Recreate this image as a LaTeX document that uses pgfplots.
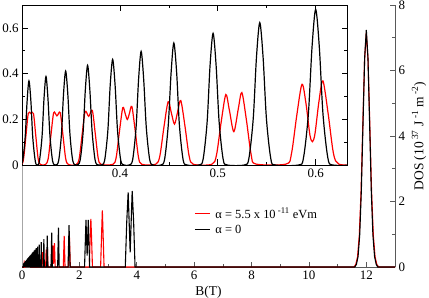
\documentclass[border=0pt]{standalone}
\usepackage{pgfplots}
\pgfplotsset{compat=1.18}
\usepackage{fontspec}
\setmainfont{Liberation Serif}
\begin{document}
\begin{tikzpicture}
\path[use as bounding box] (-22bp,-31bp) rectangle (407bp,267bp);
\pgfplotsset{
  /pgf/number format/assume math mode=true,
  major tick length=5.5bp, minor tick length=3bp,
}
\begin{axis}[
  at={(0,0)}, anchor=south west,
  scale only axis, width=373bp, height=262bp,
  xmin=0, xmax=13, ymin=0, ymax=8,
  axis x line=bottom, axis y line=right,
  axis line style={-, gray!70!black, line width=0.8bp},
  every tick/.style={gray!70!black, line width=0.6bp},
  tick align=inside,
  tick label style={font=\fontsize{13}{15}\selectfont},
  label style={font=\fontsize{13.5}{15}\selectfont},
  xtick={0,2,...,12}, ytick={0,2,...,8},
  minor x tick num=1, minor y tick num=1,
  xlabel={B(T)},
  ylabel={DOS (10\textsuperscript{ 37} J\textsuperscript{ -1} m\textsuperscript{ -2})},
  legend style={at={(axis cs:6.0,1.87)}, anchor=north west, draw=none, fill=none,
    font=\fontsize{12.5}{14}\selectfont, row sep=1.5bp, inner sep=0pt,
    nodes={inner xsep=5bp}},
  legend cell align=left,
  legend image code/.code={\draw[#1, line width=1.1bp] (0bp,0bp) -- (15bp,0bp);},
]
\draw[gray!70, line width=0.8bp] (rel axis cs:0,0) -- (rel axis cs:0,1);
\addplot[red, line width=1.1bp] coordinates {
(0,0) (0.065,0) (0.07,0.051) (0.077,0) (0.085,0.062) (0.093,0) (0.1011,0.074) (0.109,0)
(0.1178,0.086) (0.126,0) (0.1352,0.099) (0.143,0) (0.1514,0.111) (0.158,0) (0.1642,0.120)
(0.172,0) (0.1793,0.131) (0.184,0) (0.1881,0.137) (0.193,0) (0.1978,0.144) (0.203,0)
(0.2085,0.152) (0.214,0) (0.2205,0.161) (0.227,0) (0.2339,0.171) (0.241,0) (0.2490,0.182)
(0.257,0) (0.2662,0.194) (0.276,0) (0.2858,0.209) (0.2992,0) (0.3064,0.225) (0.3117,0.225)
(0.3189,0) (0.3240,0) (0.3324,0.229) (0.3357,0.215) (0.3390,0.229) (0.3474,0) (0.3555,0)
(0.3645,0.234) (0.3682,0.213) (0.3718,0.239) (0.3808,0) (0.3928,0) (0.4030,0.251)
(0.4076,0.199) (0.4122,0.256) (0.4224,0) (0.4364,0) (0.4493,0.277) (0.4558,0.179)
(0.4622,0.282) (0.4751,0) (0.4938,0) (0.5082,0.308) (0.5164,0.146) (0.5246,0.317) (0.5390,0)
(0.5698,0) (0.5860,0.353) (0.5967,0.102) (0.6074,0.368) (0.6236,0) (0.677,0) (0.691,0.43)
(0.706,0.2) (0.721,0.45) (0.737,0) (0.824,0) (0.842,0.53) (0.865,0.1) (0.888,0.55) (0.907,0)
(1.045,0) (1.07,0.66) (1.10,0.1) (1.13,0.73) (1.157,0) (1.44,0) (1.47,0.95) (1.50,0)
(1.615,0) (1.65,1.0) (1.685,0) (2.345,0) (2.375,0.88) (2.40,1.47) (2.425,0.88) (2.455,0)
(2.74,0) (2.775,1.04) (2.80,1.73) (2.825,1.04) (2.86,0) (11.57,0) (11.634,0.08) (11.695,0.31)
(11.756,0.97) (11.817,2.32) (11.878,4.34) (11.939,6.31) (12.0,7.15) (12.061,6.31)
(12.122,4.34) (12.183,2.32) (12.244,0.97) (12.305,0.31) (12.366,0.08) (12.43,0) (13,0)
};
\addlegendentry{α = 5.5\ x 10\textsuperscript{ -11}\ eVm}
\addplot[black, line width=1.1bp] coordinates {
(0,0) (0.045,0) (0.05,0.094) (0.055,0) (0.06,0.104) (0.065,0) (0.07,0.115) (0.075,0)
(0.08,0.126) (0.085,0) (0.09,0.136) (0.096,0) (0.1019,0.149) (0.108,0) (0.1143,0.162)
(0.121,0) (0.1272,0.176) (0.1335,0) (0.1398,0.190) (0.1454,0) (0.1510,0.202) (0.1553,0)
(0.1595,0.211) (0.1643,0) (0.1691,0.221) (0.1745,0) (0.1798,0.232) (0.1860,0) (0.1921,0.246)
(0.1955,0) (0.1988,0.253) (0.2025,0) (0.2061,0.261) (0.2100,0) (0.2139,0.269) (0.2181,0)
(0.2223,0.278) (0.2268,0) (0.2314,0.288) (0.2363,0) (0.2413,0.298) (0.2466,0) (0.2520,0.310)
(0.2579,0) (0.2638,0.322) (0.2702,0) (0.2767,0.336) (0.2838,0) (0.2910,0.351) (0.2985,0)
(0.3006,0) (0.3071,0.368) (0.3136,0) (0.3177,0) (0.3245,0.387) (0.3313,0) (0.3373,0)
(0.3446,0.411) (0.3519,0) (0.3592,0) (0.3670,0.436) (0.3748,0) (0.3843,0) (0.3926,0.462)
(0.4009,0) (0.4129,0) (0.4217,0.497) (0.4305,0) (0.4456,0) (0.4551,0.534) (0.4646,0)
(0.4849,0) (0.4952,0.576) (0.5055,0) (0.5316,0) (0.5429,0.623) (0.5542,0) (0.5875,0)
(0.6000,0.681) (0.6125,0) (0.657,0) (0.671,0.76) (0.685,0) (0.746,0) (0.762,0.85) (0.778,0)
(0.861,0) (0.880,0.96) (0.899,0) (1.013,0) (1.035,1.05) (1.057,0) (1.243,0) (1.27,1.20)
(1.297,0) (1.605,0) (1.64,1.28) (1.675,0) (2.18,0) (2.23,1.44) (2.27,0.35) (2.31,1.44)
(2.36,0) (3.60,0) (3.65,1.37) (3.70,2.28) (3.77,0.45) (3.84,2.32) (3.89,1.39) (3.94,0)
(11.60,0) (11.655,0.08) (11.7125,0.32) (11.77,0.98) (11.8275,2.35) (11.885,4.39)
(11.9425,6.39) (12.0,7.24) (12.0575,6.39) (12.115,4.39) (12.1725,2.35) (12.23,0.98)
(12.2875,0.32) (12.345,0.08) (12.40,0) (13,0)
};
\addlegendentry{α = 0}
\end{axis}
\begin{axis}[
  at={(0,102bp)}, anchor=south west,
  scale only axis, width=325bp, height=160bp,
  xmin=0.3, xmax=0.632, ymin=0, ymax=0.7,
  axis line style={black, line width=0.8bp},
  every tick/.style={black, line width=0.6bp},
  tick align=inside,
  tick label style={font=\fontsize{13}{15}\selectfont},
  xtick={0.4,0.5,0.6}, ytick={0,0.2,0.4,0.6},
  minor x tick num=1, minor y tick num=1,
  axis background/.style={fill=white},
]
\addplot[red, line width=1.2bp, smooth] coordinates {
(0.29,0) (0.2992,0.002) (0.3016,0.028) (0.3040,0.127) (0.3064,0.225) (0.30905,0.226)
(0.3117,0.225) (0.3141,0.127) (0.3165,0.028) (0.3189,0.002)
(0.3240,0.002) (0.3268,0.029) (0.3296,0.132) (0.3324,0.229) (0.3357,0.215) (0.3390,0.229)
(0.3418,0.132) (0.3446,0.029) (0.3474,0.002)
(0.3555,0.002) (0.3585,0.030) (0.3615,0.136) (0.3645,0.234) (0.36815,0.213) (0.3718,0.239)
(0.3748,0.139) (0.3778,0.031) (0.3808,0.003)
(0.3928,0.003) (0.3962,0.033) (0.3996,0.149) (0.4030,0.251) (0.4056,0.222) (0.4076,0.199)
(0.4097,0.225) (0.4122,0.256) (0.4156,0.152) (0.4190,0.034) (0.4224,0.003)
(0.4364,0.003) (0.4407,0.037) (0.4450,0.166) (0.4493,0.277) (0.4525,0.229) (0.4558,0.179)
(0.4590,0.233) (0.4622,0.282) (0.4665,0.169) (0.4708,0.038) (0.4751,0.003)
(0.4938,0.003) (0.4986,0.042) (0.5034,0.186) (0.5082,0.308) (0.5118,0.241) (0.5164,0.146)
(0.5210,0.247) (0.5246,0.317) (0.5294,0.192) (0.5342,0.043) (0.5390,0.004)
(0.5698,0.004) (0.5752,0.048) (0.5806,0.214) (0.5860,0.353) (0.5901,0.269) (0.5941,0.132)
(0.5967,0.102) (0.5993,0.137) (0.6034,0.280) (0.6074,0.368) (0.6128,0.223) (0.6182,0.050)
(0.6236,0.004) (0.64,0)
};
\addplot[black, line width=1.2bp, smooth] coordinates {
(0.2980,0) (0.3006,0.016) (0.3032,0.120) (0.3052,0.278) (0.3071,0.368) (0.3091,0.278)
(0.3110,0.120) (0.3136,0.016) (0.3157,0)
(0.3178,0.017) (0.3205,0.126) (0.3225,0.292) (0.3245,0.387) (0.3265,0.292) (0.3286,0.126)
(0.3313,0.017) (0.3342,0)
(0.3374,0.018) (0.3403,0.134) (0.3424,0.310) (0.3446,0.411) (0.3468,0.310) (0.3490,0.134)
(0.3519,0.018) (0.3555,0)
(0.3593,0.019) (0.3624,0.142) (0.3647,0.329) (0.3670,0.436) (0.3693,0.329) (0.3717,0.142)
(0.3748,0.019) (0.3779,0) (0.3811,0)
(0.3844,0.020) (0.3877,0.150) (0.3901,0.349) (0.3926,0.462) (0.3951,0.349) (0.3976,0.150)
(0.4009,0.020) (0.4042,0) (0.4095,0)
(0.4130,0.022) (0.4165,0.162) (0.4191,0.375) (0.4217,0.497) (0.4243,0.375) (0.4270,0.162)
(0.4305,0.022) (0.4340,0) (0.4418,0)
(0.4456,0.023) (0.4494,0.174) (0.4523,0.403) (0.4551,0.534) (0.4580,0.403) (0.4608,0.174)
(0.4646,0.023) (0.4684,0) (0.4809,0)
(0.4850,0.025) (0.4891,0.187) (0.4921,0.435) (0.4952,0.576) (0.4983,0.435) (0.5014,0.187)
(0.5055,0.025) (0.5096,0) (0.5272,0)
(0.5317,0.027) (0.5362,0.202) (0.5395,0.470) (0.5429,0.623) (0.5463,0.470) (0.5497,0.202)
(0.5542,0.027) (0.5587,0) (0.5825,0)
(0.5875,0.030) (0.5925,0.221) (0.59625,0.514) (0.6000,0.681) (0.60375,0.514) (0.6075,0.221)
(0.6125,0.030) (0.6175,0) (0.64,0)
};
\end{axis}
\end{tikzpicture}
\end{document}
